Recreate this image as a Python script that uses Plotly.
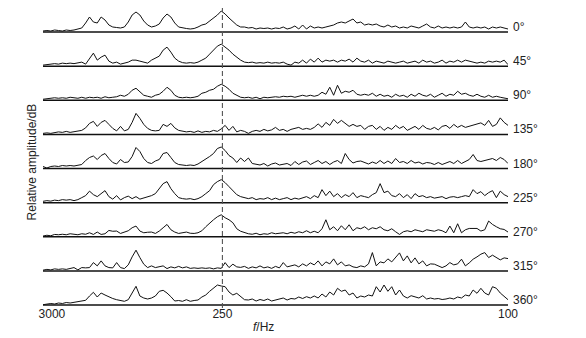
import plotly.graph_objects as go

# frequency-bin index (display order: 3000 Hz on the left, 100 Hz on the right)
bins = list(range(121))
tick_pos = [2.3, 46.3, 120]
tick_text = ["3000", "250", "100"]
marker_bin = 46.3  # 250 Hz reference

angles = ["0°", "45°", "90°", "135°", "180°", "225°", "270°", "315°", "360°"]

amp_0 = [1,1.5,1,2,1.5,1,2,1.5,2,3,4,9,15,10,9,15,12,7,5,4.5,4,5,10,17,20,17,11,7,5,6,8,14,18,15,9,5,4,3.5,3,3.5,
         5,7,8,11,14,17,21,18,14,10,7,5,5,4,4.5,3,4,3.5,4,3,4,3.5,5,3,4,6,3,7,3,6,4,5,4,5,6,7,9,10,9,11,
         13,9,10,7,8,7,8,6,5,7,5,6,4,5,4,6,5,4,6,8,5,4,6,4,5,4,5,4,5,10,5,4,5,4,5,3,5,4,5,4,3]
amp_45 = [1,1.5,2,2.5,2,3,2.5,3,2.5,3,4,2,7,13,6,9,11,5,3,4,2,3,4,6,6,5,4,3,6,8,10,16,19,14,8,5,3.5,3,3.5,3,
          4,6,8,12,16,20,22,19,16,12,9,6,4,3.5,4,3,3.5,3,4,3,3.5,3,4,2,1,4,3,6,3,7,4,8,4,6,5,6,4,6,5,7,
          4,8,5,4,6,3,5,4,3,5,4,3,4,5,3,4,5,3,6,4,5,3,4,6,3,5,4,6,4,6,5,4,3,4,3,5,4,5,4,6,1.5]
amp_90 = [1,1.5,2,2.5,2,2.5,2,3,2.5,2,3,2,3,2.5,3,2,3.5,2.5,3,3.5,5,4,6,10,12,8,5,4,3,5,6,9,13,10,5,3,2.5,3,2.5,3,
          4,7,8,10,11,14,16,14,11,7,5,3,2.5,3,2,3,1.5,3,2.5,3,3.5,3,4,3.5,4,3,4,5,4,5,4,5,8,6,13,5,15,7,9,8,
          10,6,5,6,5,7,4,6,4,5,3,6,4,5,3,6,4,7,5,4,6,3,5,7,4,6,5,9,6,7,5,4,6,4,3,5,3,4,3,2,1.5]
amp_135 = [1,1.5,1,2,2.5,2,3,2,2.5,3,4,6.5,11,13,8,12,14,10,6,3.5,8,3.5,5,12,21,16,10,6,4,3.5,4,10,8,11,6.5,4,3,2.5,3,2,
           3.5,2,3,2.5,4,3,5.5,9,4,8,2.5,4,3,1,3,4,3,5,3.5,4.5,7,4,5,3,5,6,7,5,6,5,7,10.5,7,12,9,15,11,14,10.5,8,
           10,8,9,5,8,9,5,8,4,7,5,9,6,8,4,6,8,5,9,6,5,7,4.5,8,9,6,10,7,9,7,8,9,10,11.5,9,14,8,10,16.5,12,9]
amp_180 = [2,0.5,2,2.5,2,3,2.5,3,2.5,3,4,8,11,12.5,9,13,15,10,6,4.5,9,6,6.5,12,21,17,10,6,5,7.5,9,15,16,11,6,4,3.5,3,3.5,3,
           4.5,7,9,12,15,20,21.5,18,13,10.5,6,10.5,7,10.5,5,4,3.5,5,2.5,4.5,5.5,3.5,4,5,3,7,4,6.5,7.5,4,6,8,5,7,4,6.5,8,5,15,9,
           5.5,7,7.5,6,4.5,6.5,5,8,5,7.5,5,10,6,7,5,8,5.5,6.5,4.5,6,5.5,4,6,4,5.5,7,5,8,5,7,9,14,8,7,8,9.5,10,8,11,9,5]
amp_225 = [1.3,2,1.5,2.5,2,3,2.5,3,2,3,5,7,11.5,8,6,9,12,6,3.5,7,2.7,5,6.5,4,6,3.5,4.5,6,7,9,14,19,21,14,9,5,4,3.5,4,3,
           4,6,9,12,18,21,23,20,16,12,8,6,5,4,5,3,4,3.5,5,3,4.5,3,4,5,3,4.5,3.5,5,6,4,7,5,13,7,11.5,6,9,5,8,6,
           10,5,7,6,5,8,10,19,10,11.5,7,6,9,5,8,4,9,6,7,5,6,4.5,5,6,4,5.5,6,5,6,7,6,13,9,11,7,10,12,5,11.5,8,6]
amp_270 = [0.7,1.5,1,2.3,2,2.5,2,3,2.5,2,3,2.5,4,2.3,4.7,2.3,3,6.3,5.5,5.7,3.3,4.7,6,9,10.7,5.7,4,4.5,4.7,3.3,5.7,9,12.3,7,4.7,3.3,4,4.7,3.5,3.3,
           4,6,10,14,17,20,22,19,17,14,8,5.5,4,3,2.5,3.5,2,3,2.5,4,3,3.5,4,3,4.5,3.5,5,4,6,4,5.5,4,8,17,7,10,6,11,7,12,
           6,9,8,10,7,9,8,10,7,6,8,5,2.3,5,6,5,7,6,5,7,6,5.5,7,6,4,10.7,4,13,4,7,8.3,8,8.3,5.7,7,15.7,12.3,10,8,7.3,4.7]
amp_315 = [0.7,1.5,1,2,1.5,2,1.5,2.5,3.3,1,3.3,3,3.3,8.3,5,10,5,3.3,3,8.3,3.3,2.3,6,14,20.7,13.3,6.7,3.3,5,3.3,4,5,2.3,4,3,4.5,3,4,2.5,3,
           2.5,3,2.5,3,2,3,2.5,8.3,3.3,6.7,4,3.5,4.5,2.5,4,3,5,3,4,2.5,4.5,3,8.3,4,5,6,4,7,5,8,6,10,5,9,7,12,6,9,5,6,
           4,3.3,5,4,7,18.3,5,9,8,12,9,14,18,10,15,8,13,7,10,5,7,6.7,5,3.3,5,8.3,6,7,11.7,5,8,11.7,14,16.7,18.3,13.3,15.7,13,11,13,12.3]
amp_360 = [0.3,1,1.5,1,2,1.5,2.5,2,2.5,3.7,4,4.7,9,12.7,8,12,10,8,6.5,5.3,4.5,3.7,5.3,12,18.7,9,7,6,7,9,13.7,14.7,12,8.3,4,4.5,3.7,5.3,3.7,4.5,
           5,8,10,13.7,17,20,19,18.3,13,10,11.7,8,5.3,5,6,4,5.5,4.5,6,4,5,6,7,5,6.5,6,8,6.5,8.3,7,9,7,11,8,13,10,16.7,13.7,15,10,
           12,7,9,8,10,9,18.3,13,20,13.7,18.3,10,15,9,7,9.3,8,7,9.3,6,7,6,6.5,5.5,6,7,6,8,7,10,9,15,11.7,16.7,12,10,18.3,16.7,12,8.3,5.3]

series = [amp_0, amp_45, amp_90, amp_135, amp_180, amp_225, amp_270, amp_315, amp_360]

SPACING = 34.125
n = len(series)
FONT = "Liberation Sans, Arial"

fig = go.Figure()
for k, (lab, vals) in enumerate(zip(angles, series)):
    off = (n - 1 - k) * SPACING
    fig.add_trace(go.Scatter(x=bins, y=[v + off for v in vals], mode="lines",
                             line=dict(color="#111111", width=1.0), hoverinfo="skip", showlegend=False))
    fig.add_trace(go.Scatter(x=[bins[0], bins[-1]], y=[off, off], mode="lines",
                             line=dict(color="#111111", width=1.5), hoverinfo="skip", showlegend=False))
    fig.add_annotation(x=1.0, xref="paper", y=off + 5, yref="y", text=lab, showarrow=False,
                       xanchor="left", yanchor="middle", xshift=3,
                       font=dict(family=FONT, size=12, color="#222222"))

fig.add_shape(type="line", x0=marker_bin, x1=marker_bin, y0=-3, y1=(n - 1) * SPACING + 24,
              xref="x", yref="y", line=dict(color="#555555", width=1.1, dash="5px,3px"), layer="above")

# axis titles
fig.add_annotation(x=0.475, xref="paper", y=-0.055, yref="paper", text="<i>f</i>/Hz", showarrow=False,
                   xanchor="center", yanchor="middle", font=dict(family=FONT, size=12, color="#222222"))
fig.add_annotation(x=-0.023, xref="paper", y=0.485, yref="paper", text="Relative amplitude/dB",
                   showarrow=False, textangle=-90, xanchor="center", yanchor="middle",
                   font=dict(family=FONT, size=12, color="#222222"))

fig.update_layout(
    width=586, height=338,
    margin=dict(l=43, r=78, t=5, b=28, autoexpand=False),
    paper_bgcolor="white", plot_bgcolor="white",
    font=dict(family=FONT, size=12, color="#222222"),
    xaxis=dict(range=[bins[0], bins[-1]], tickvals=tick_pos, ticktext=tick_text, showgrid=False,
               zeroline=False, showline=False, ticks="", tickfont=dict(size=12), automargin=False,
               ticklabelstandoff=-5),
    yaxis=dict(range=[-5, 300], showgrid=False, zeroline=False, showline=False, showticklabels=False,
               automargin=False),
)

fig.write_html("out.html", config={"displayModeBar": False},
               post_script="document.body.style.margin='0';document.body.style.overflow='hidden';")
